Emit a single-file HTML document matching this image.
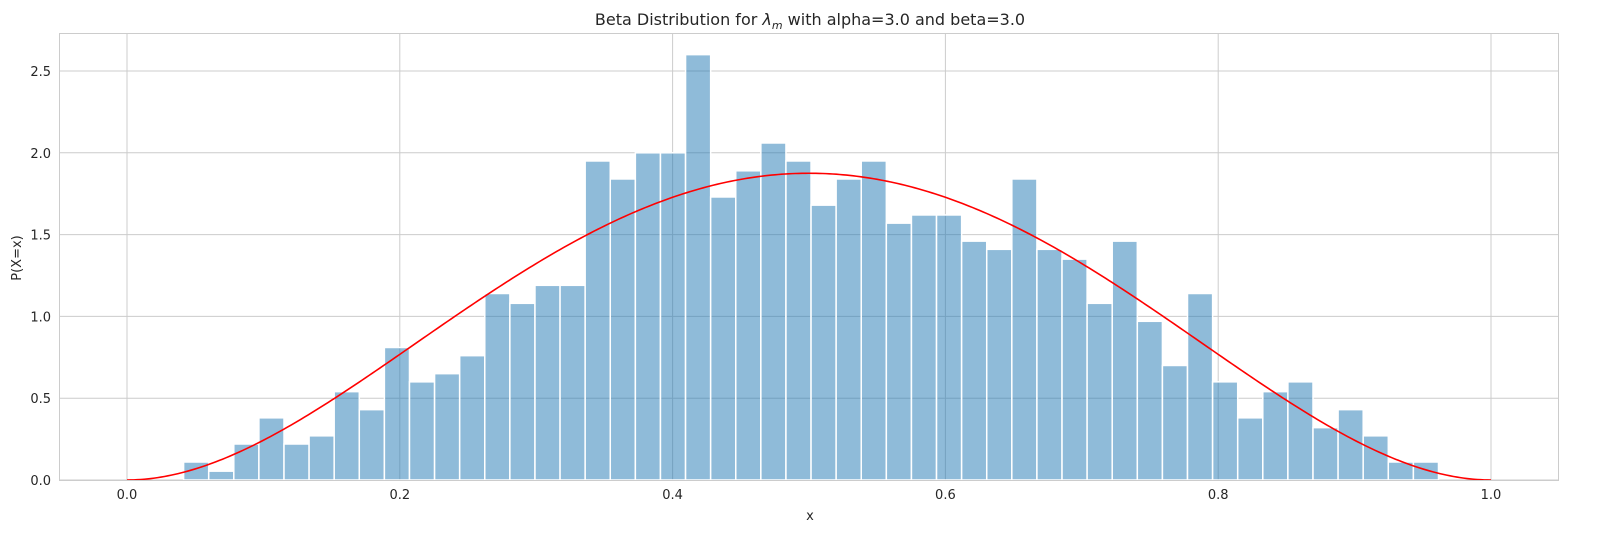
<!DOCTYPE html>
<html><head><meta charset="utf-8"><style>
body{margin:0;background:#fff;}
svg text{font-family:"DejaVu Sans","Liberation Sans",sans-serif;fill:#262626;}
</style></head><body>
<svg id="chart" width="1621" height="549">
<rect x="0" y="0" width="1621" height="549" fill="#fff"/>
<g id="grid"></g>
<g id="bars"></g>
<path id="pdf" fill="none" stroke="#ff0000" stroke-width="1.6"/>
<rect x="59.5" y="33.5" width="1499" height="447" fill="none" stroke="#cccccc" stroke-width="1"/>
<g id="ticks"></g>
<text x="810" y="25" text-anchor="middle" font-size="16">Beta Distribution for <tspan font-style="italic">λ</tspan><tspan font-style="italic" font-size="11" dy="4">m</tspan><tspan dy="-4"> with alpha=3.0 and beta=3.0</tspan></text>
<text x="810" y="520" text-anchor="middle" font-size="13">x</text>
<text x="21" y="258" text-anchor="middle" font-size="13" transform="rotate(-90 21 258)">P(X=x)</text>
</svg>
<script>
const binStart = 0.0415;
const binEnd = 0.9615;
const heights = [0.11,0.054,0.22,0.38,0.22,0.27,0.54,0.43,0.81,0.60,0.65,0.76,1.14,1.08,1.19,1.19,1.95,1.84,2.0,2.0,2.6,1.73,1.89,2.06,1.95,1.68,1.84,1.95,1.57,1.62,1.62,1.46,1.41,1.84,1.41,1.35,1.08,1.46,0.97,0.70,1.14,0.60,0.38,0.54,0.60,0.32,0.43,0.27,0.11,0.11];
const xTicks = [0.0,0.2,0.4,0.6,0.8,1.0];
const yTicks = [0.0,0.5,1.0,1.5,2.0,2.5];
const alpha = 3.0, beta = 3.0;

const X = v => 127 + v*1364;
const Y = v => 480 - v*163.6;
const NS = "http://www.w3.org/2000/svg";
const grid = document.getElementById('grid');
const ticks = document.getElementById('ticks');
const bars = document.getElementById('bars');

xTicks.forEach(t => {
  const l = document.createElementNS(NS,'line');
  
  
  l.setAttribute('x1',X(t));l.setAttribute('x2',X(t));l.setAttribute('y1',33);l.setAttribute('y2',480);
  l.setAttribute('stroke','#cccccc');
  grid.appendChild(l);
  const tx = document.createElementNS(NS,'text');
  
  
  tx.setAttribute('x',X(t));tx.setAttribute('y',499);tx.setAttribute('text-anchor','middle');tx.setAttribute('font-size','13');
  tx.textContent = t.toFixed(1);
  ticks.appendChild(tx);
});
yTicks.forEach(t => {
  const l = document.createElementNS(NS,'line');
  
  
  l.setAttribute('x1',59);l.setAttribute('x2',1558);l.setAttribute('y1',Y(t));l.setAttribute('y2',Y(t));
  l.setAttribute('stroke','#cccccc');
  grid.appendChild(l);
  const tx = document.createElementNS(NS,'text');
  
  
  tx.setAttribute('x',51);tx.setAttribute('y',Y(t)+5);tx.setAttribute('text-anchor','end');tx.setAttribute('font-size','13');
  tx.textContent = t.toFixed(1);
  ticks.appendChild(tx);
});
const bw = (binEnd-binStart)/heights.length;
heights.forEach((h,i) => {
  const r = document.createElementNS(NS,'rect');
  
  
  const x0 = X(binStart+i*bw), x1 = X(binStart+(i+1)*bw);
  r.setAttribute('x',x0);r.setAttribute('width',x1-x0);
  r.setAttribute('y',Y(h));r.setAttribute('height',Y(0)-Y(h));
  r.setAttribute('fill','rgba(31,119,180,0.5)');r.setAttribute('stroke','#fff');r.setAttribute('stroke-width','1.5');
  bars.appendChild(r);
});
// Beta pdf: B(3,3)=1/30
let d = '';
for (let i=0;i<=400;i++){
  const x = i/400;
  const y = Math.pow(x,alpha-1)*Math.pow(1-x,beta-1)*30;
  d += (i?'L':'M') + X(x).toFixed(2) + ',' + Y(y).toFixed(2);
}
document.getElementById('pdf').setAttribute('d',d);
</script>
</body></html>
